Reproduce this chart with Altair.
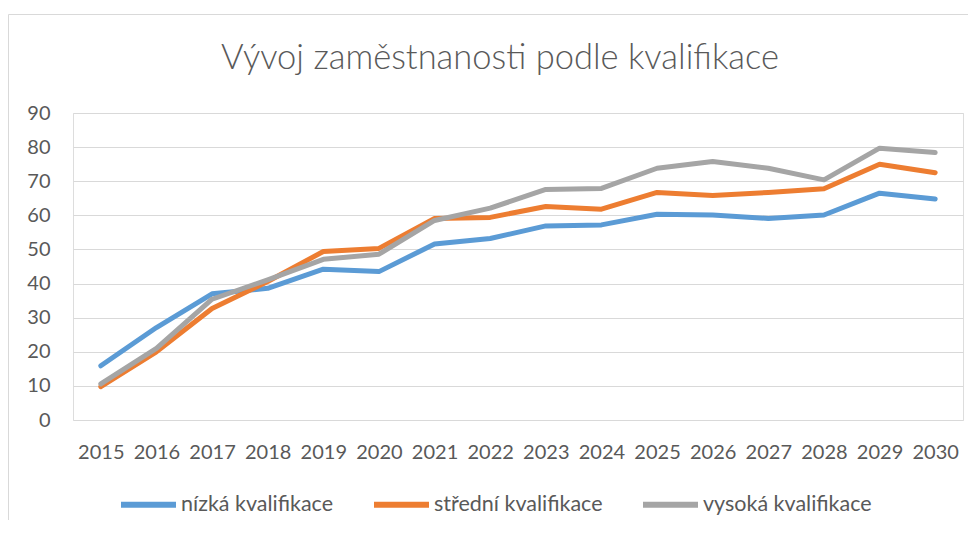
import altair as alt
import pandas as pd

years = [str(y) for y in range(2015, 2031)]
nizka = [15.9, 27.1, 37.0, 38.6, 44.2, 43.5, 51.6, 53.2, 56.9, 57.2, 60.3, 60.1, 59.1, 60.1, 66.5, 64.8]
stredni = [9.8, 20.0, 32.7, 40.6, 49.4, 50.3, 59.1, 59.4, 62.6, 61.8, 66.7, 65.8, 66.7, 67.8, 75.0, 72.5]
vysoka = [10.6, 21.0, 35.4, 41.1, 47.1, 48.6, 58.5, 62.1, 67.6, 67.9, 73.8, 75.8, 73.8, 70.4, 79.7, 78.4]
series = ["nízká kvalifikace", "střední kvalifikace", "vysoká kvalifikace"]
colors = ["#5b9bd5", "#ed7d31", "#a5a5a5"]
y_ticks = list(range(0, 100, 10))

rows = []
for name, vals in zip(series, [nizka, stredni, vysoka]):
    for yr, v in zip(years, vals):
        rows.append({"rok": yr, "hodnota": v, "serie": name})
df = pd.DataFrame(rows)

FONT = "Lato"
TXT = "#595959"

lines = alt.Chart(df).mark_line(strokeWidth=5, strokeCap="round", strokeJoin="round").encode(
    x=alt.X("rok:O", sort=years, title=None,
            scale=alt.Scale(padding=0.5),
            axis=alt.Axis(labelAngle=0, ticks=False, tickSize=0, domain=False, grid=False,
                          labelPadding=22, labelFontSize=20, labelFont=FONT, labelColor=TXT)),
    y=alt.Y("hodnota:Q", title=None,
            scale=alt.Scale(domain=[0, 90], nice=False),
            axis=alt.Axis(values=y_ticks, ticks=False, tickSize=0, domain=False,
                          gridColor="#d9d9d9", gridWidth=1.2,
                          labelPadding=23, labelFontSize=20, labelFont=FONT, labelColor=TXT)),
    color=alt.Color("serie:N", sort=series, title=None,
                    scale=alt.Scale(domain=series, range=colors),
                    legend=alt.Legend(orient="none", legendX=45, legendY=361, direction="horizontal",
                                      symbolType="stroke", symbolSize=3025, symbolStrokeWidth=6,
                                      labelFontSize=21.5, labelFont=FONT, labelColor=TXT,
                                      labelLimit=400, labelOffset=2, columnPadding=28, padding=0)),
)

border_df = pd.DataFrame({"k": [0]})
top_border = alt.Chart(border_df).mark_rule(color="#d9d9d9", strokeWidth=1).encode(
    x=alt.value(-64.5), x2=alt.value(1000), y=alt.value(-98.5))
left_border = alt.Chart(border_df).mark_rule(color="#d9d9d9", strokeWidth=1).encode(
    x=alt.value(-64.5), y=alt.value(-98.5), y2=alt.value(500))

chart = alt.layer(top_border, left_border, lines).properties(
    width=890, height=307,
    title=alt.TitleParams("Vývoj zaměstnanosti podle kvalifikace", font=FONT, fontSize=34.5,
                          fontWeight=300, color=TXT, anchor="middle", frame="group",
                          baseline="alphabetic", offset=-89, dx=-18),
    autosize=alt.AutoSizeParams(type="none"),
    padding={"left": 65, "top": 105, "right": 5, "bottom": 100},
).configure_view(stroke=None).configure(background="white")

chart.save("out.html", embed_options={"renderer": "svg", "actions": False})
